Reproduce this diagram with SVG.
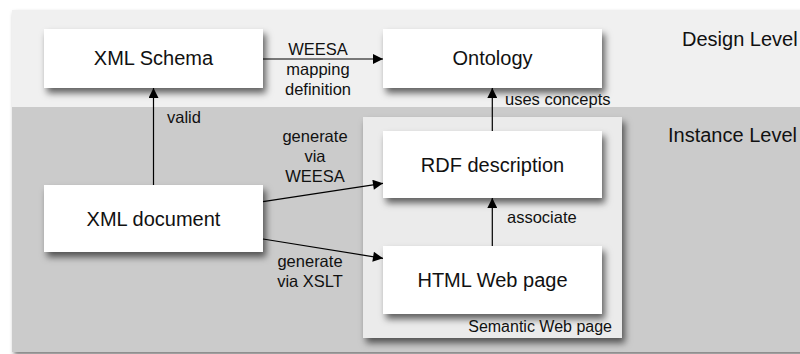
<svg xmlns="http://www.w3.org/2000/svg" width="800" height="354" viewBox="0 0 800 354">
<defs>
<filter id="sh" x="-10%" y="-20%" width="130%" height="160%">
<feDropShadow dx="3" dy="5" stdDeviation="3.5" flood-color="#000" flood-opacity="0.6"/>
</filter>
<filter id="psh" x="-5%" y="-5%" width="110%" height="115%">
<feDropShadow dx="2" dy="3" stdDeviation="2" flood-color="#000" flood-opacity="0.5"/>
</filter>
<marker id="ah" viewBox="0 0 10 10" refX="10" refY="5" markerWidth="13" markerHeight="10" markerUnits="userSpaceOnUse" orient="auto">
<path d="M0,0 L10,5 L0,10 Z" fill="#000"/>
</marker>
<style>
text{font-family:"Liberation Sans",Arial,sans-serif;fill:#111}
.n{font-size:20px;text-anchor:middle}
.lv{font-size:20px}
.l{font-size:16.5px}
.c{text-anchor:middle}
.box{fill:#fff;filter:url(#sh)}
.e{stroke:#000;stroke-width:1.2;fill:none;marker-end:url(#ah)}
</style>
</defs>
<g id="background" filter="url(#psh)">
<rect x="12" y="10" width="792" height="342" fill="#cbcbcb"/>
<rect x="12" y="10" width="792" height="97" fill="#f0f0f0"/>
</g>
<text class="lv" x="682" y="46">Design Level</text>
<text class="lv" x="668" y="142">Instance Level</text>
<g id="semantic-web-page">
<rect x="363" y="117" width="259" height="221" fill="#ebebeb" filter="url(#sh)"/>
<text class="l" x="612" y="332" text-anchor="end" style="font-size:16px">Semantic Web page</text>
</g>
<g id="xml-schema">
<rect class="box" x="44" y="29" width="219" height="59"/>
<text class="n" x="153.5" y="65">XML Schema</text>
</g>
<g id="ontology">
<rect class="box" x="383" y="29" width="219" height="59"/>
<text class="n" x="492.5" y="65">Ontology</text>
</g>
<g id="xml-document">
<rect class="box" x="44" y="185" width="219" height="67"/>
<text class="n" x="153.5" y="225.5">XML document</text>
</g>
<g id="rdf-description">
<rect class="box" x="383" y="131" width="219" height="67"/>
<text class="n" x="492.5" y="172">RDF description</text>
</g>
<g id="html-web-page">
<rect class="box" x="383" y="246" width="219" height="68"/>
<text class="n" x="492.5" y="287">HTML Web page</text>
</g>
<g id="connectors">
<line class="e" x1="263" y1="59" x2="383" y2="59"/>
<text class="l c" x="318" y="55">WEESA</text>
<text class="l c" x="318" y="75">mapping</text>
<text class="l c" x="318" y="94.5">definition</text>
<line class="e" x1="153.5" y1="185" x2="153.5" y2="88"/>
<text class="l" x="167" y="123">valid</text>
<line class="e" x1="492.3" y1="131" x2="492.3" y2="88"/>
<text class="l" x="505" y="105">uses concepts</text>
<line class="e" x1="492.3" y1="246" x2="492.3" y2="198"/>
<text class="l" x="507" y="223">associate</text>
<line class="e" x1="263" y1="201.7" x2="383" y2="183.3"/>
<text class="l c" x="315" y="142">generate</text>
<text class="l c" x="315" y="162">via</text>
<text class="l c" x="315" y="182">WEESA</text>
<line class="e" x1="263" y1="239" x2="383" y2="258.3"/>
<text class="l c" x="310" y="267">generate</text>
<text class="l c" x="310" y="287">via XSLT</text>
</g>
</svg>
